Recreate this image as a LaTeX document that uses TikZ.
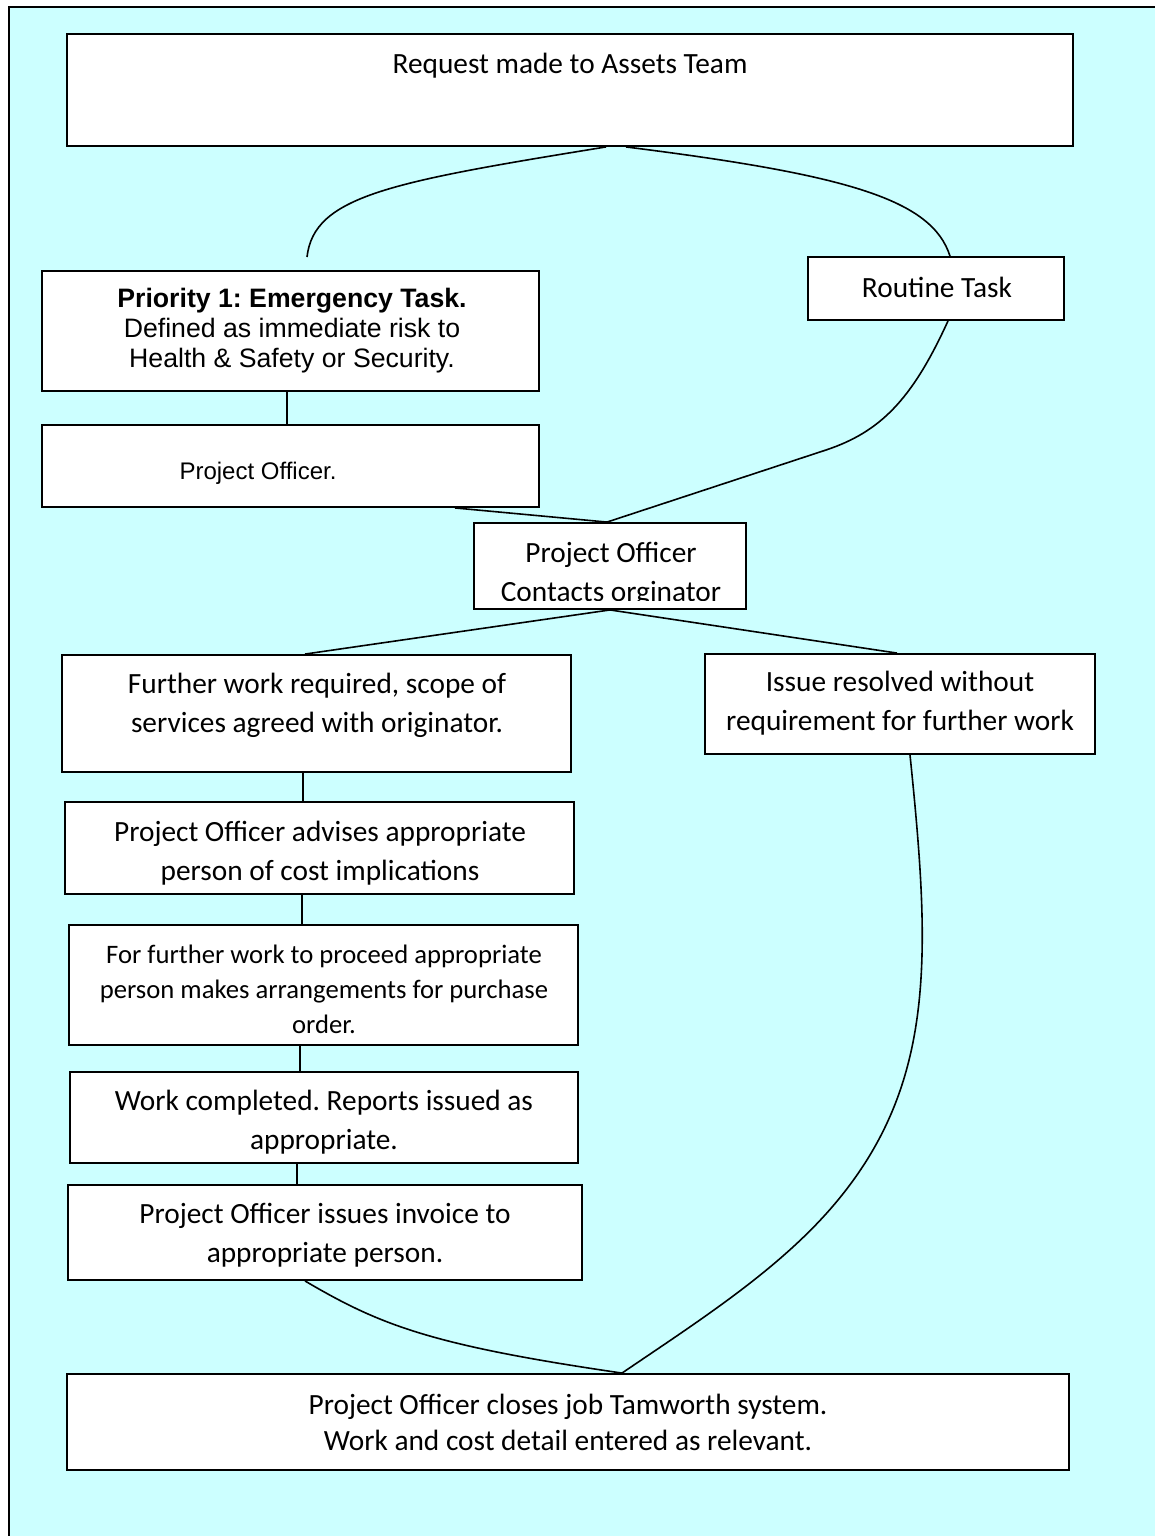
\documentclass[tikz,border=0pt]{standalone}
\usepackage{fontspec}
\setmainfont{Carlito}
\newfontfamily\arialf{Liberation Sans}
\usetikzlibrary{fit}
\definecolor{bgcyan}{RGB}{204,255,255}
\frenchspacing
\begin{document}
\frenchspacing
\begin{tikzpicture}[x=0.75pt,y=-0.75pt,
  box/.style={draw=black, line width=1.4pt, fill=white, inner sep=0pt},
  conn/.style={draw=black, line width=1.2pt},
  cal/.style={font=\frenchspacing\fontsize{22pt}{29.25pt}\selectfont, align=center, inner sep=0pt},
  calsm/.style={font=\frenchspacing\fontsize{20pt}{26.25pt}\selectfont, align=center, inner sep=0pt},
  calcl/.style={font=\frenchspacing\fontsize{22pt}{27pt}\selectfont, align=center, inner sep=0pt},
  ari/.style={font=\frenchspacing\arialf\fontsize{20pt}{22.5pt}\selectfont, align=center, inner sep=0pt},
  arism/.style={font=\frenchspacing\arialf\fontsize{18pt}{21pt}\selectfont, align=center, inner sep=0pt}]
\useasboundingbox (0,0) rectangle (1155,1536);
\fill[white] (0,0) rectangle (1155,1536);
\fill[bgcyan] (9,7) rectangle (1175,1560);
\draw[line width=1.5pt] (9,1560) -- (9,7) -- (1175,7);

% boxes
\node[box, fit={(67,34) (1073,146)}] (req) {};
\node[box, fit={(42,271) (539,391)}] (pri) {};
\node[box, fit={(42,425) (539,507)}] (po1) {};
\node[box, fit={(808,257) (1064,320)}] (rt) {};
\node[box, fit={(474,523) (746,609)}] (poc) {};
\node[box, fit={(62,655) (571,772)}] (fw) {};
\node[box, fit={(705,654) (1095,754)}] (iss) {};
\node[box, fit={(65,802) (574,894)}] (adv) {};
\node[box, fit={(69,925) (578,1045)}] (ffw) {};
\node[box, fit={(70,1072) (578,1163)}] (wc) {};
\node[box, fit={(68,1185) (582,1280)}] (inv) {};
\node[box, fit={(67,1374) (1069,1470)}] (cls) {};

% texts
\node[cal] (req-t) at (570,66) {Request made to Assets Team};
\node[ari] (pri-t) at (292,330.5) {\textbf{Priority 1: Emergency Task.}\\Defined as immediate risk to\\Health \& Safety or Security.};
\node[arism] (po1-t) at (258,473.5) {Project Officer.};
\node[cal] (rt-t) at (937,287) {Routine Task};
\begin{scope}
  \clip (474,523) rectangle (746,600);
  \node[cal] (poc-t) at (611,574) {Project Officer\\Contacts orginator};
\end{scope}
\node[cal] (fw-t) at (317,705) {Further work required, scope of\\services agreed with originator.};
\node[cal] (iss-t) at (900,703.5) {Issue resolved without\\requirement for further work};
\node[cal] (adv-t) at (320,853) {Project Officer advises appropriate\\person of cost implications};
\node[calsm] (ffw-t) at (324,989.5) {For further work to proceed appropriate\\person makes arrangements for purchase\\order.};
\node[cal] (wc-t) at (324,1122) {Work completed. Reports issued as\\appropriate.};
\node[cal] (inv-t) at (325,1235) {Project Officer issues invoice to\\appropriate person.};
\node[calcl] (cls-t) at (568,1422) {Project Officer closes job Tamworth system.\\Work and cost detail entered as relevant.};

% connectors
\coordinate (ptA) at (307,257);
\draw[conn] (req.south -| 606,0) .. controls (390,182) and (314,196) .. (ptA);
\draw[conn] (req.south -| 626,0) .. controls (850,175) and (932,200) .. (rt.north -| 950,0);
\draw[conn] (rt.south -| 948,0) .. controls (912,400) and (880,432) .. (826,450) -- (poc.north -| 607,0);
\draw[conn] (po1.south -| 455,0) -- (poc.north -| 607,0);
\draw[conn] (pri.south -| 287,0) -- (po1.north -| 287,0);
\draw[conn] (poc.south -| 610,0) -- (fw.north -| 305,0);
\draw[conn] (poc.south -| 610,0) -- (iss.north -| 897,0);
\draw[conn] (fw.south -| 303,0) -- (adv.north -| 303,0);
\draw[conn] (adv.south -| 302,0) -- (ffw.north -| 302,0);
\draw[conn] (ffw.south -| 300,0) -- (wc.north -| 300,0);
\draw[conn] (wc.south -| 297,0) -- (inv.north -| 297,0);
\draw[conn] (inv.south -| 305,0) .. controls (380,1325) and (430,1345) .. (cls.north -| 622,0);
\draw[conn] (iss.south -| 910,0) .. controls (930,950) and (937,1080) .. (838,1200) .. controls (782,1268) and (700,1320) .. (cls.north -| 622,0);
\end{tikzpicture}
\end{document}
